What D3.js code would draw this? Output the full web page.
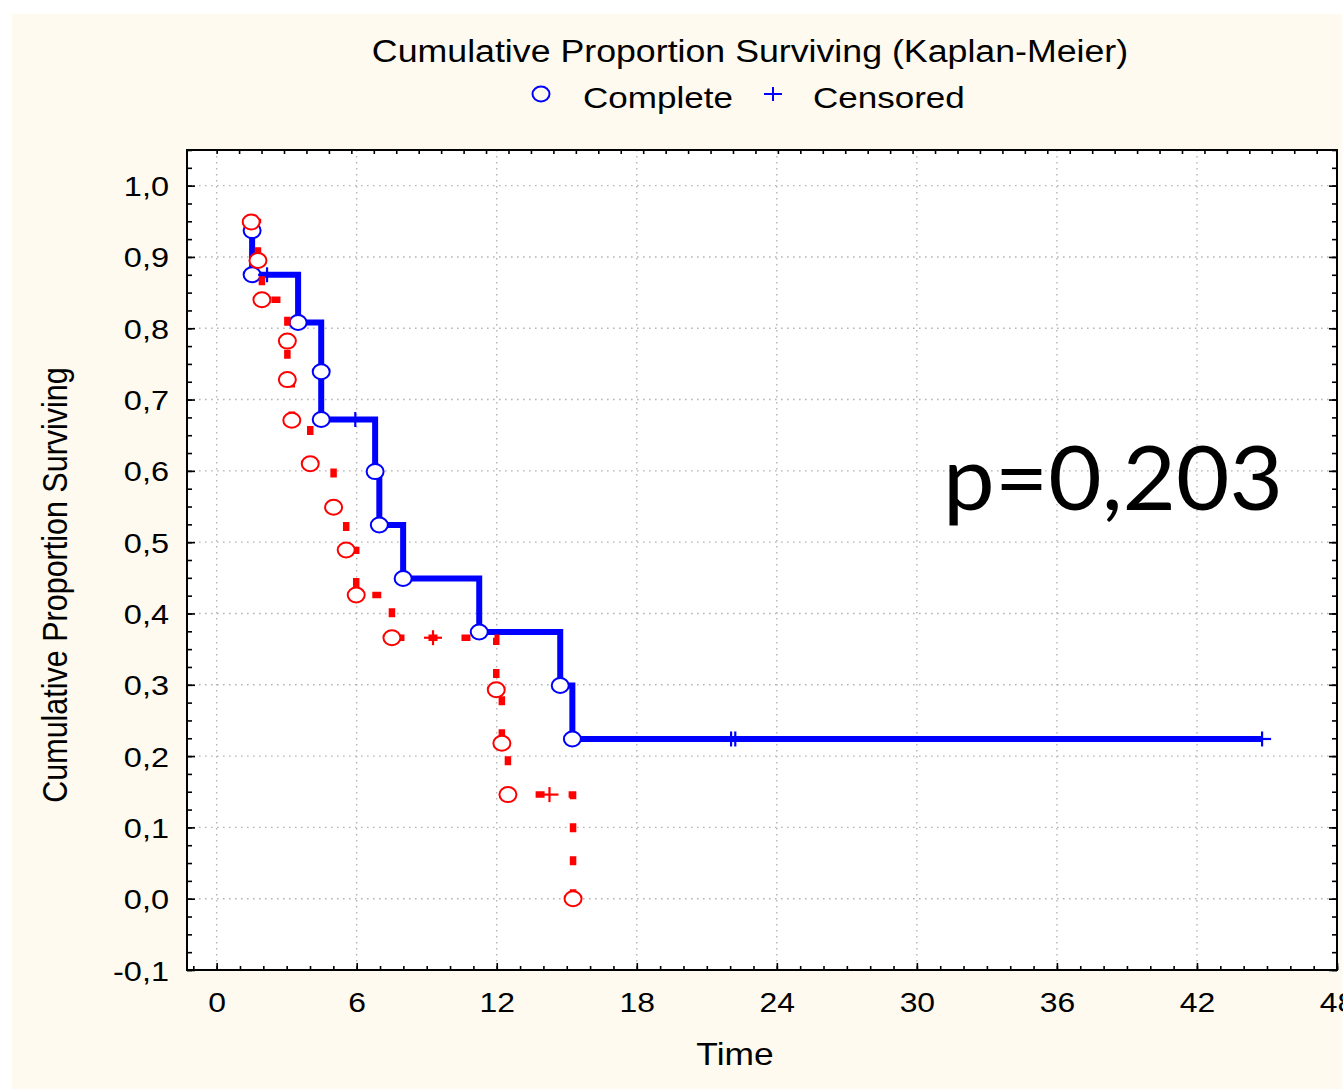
<!DOCTYPE html>
<html><head><meta charset="utf-8">
<script src="https://cdn.jsdelivr.net/npm/d3@7"></script>
<style>body{margin:0;background:#fff} svg{display:block}</style>
</head><body>
<svg id="c" width="1343" height="1089"></svg>
<script>
// ---------- data ----------
const xTickValues = [0, 6, 12, 18, 24, 30, 36, 42, 48];
const yTickValues = [-0.1, 0, 0.1, 0.2, 0.3, 0.4, 0.5, 0.6, 0.7, 0.8, 0.9, 1.0];
// blue group: complete (event) times and survival after each event
const blueEventTimes = [1.52, 1.52, 3.49, 4.48, 4.48, 6.79, 6.97, 7.99, 11.25, 14.72, 15.24];
const blueEventSurv  = [0.937, 0.875, 0.808, 0.739, 0.672, 0.599, 0.524, 0.449, 0.374, 0.299, 0.224];
const blueCensTimes  = [2.16, 5.94, 22.04, 22.22, 44.79];
// red group
const redEventTimes = [1.48, 1.77, 1.94, 3.03, 3.03, 3.22, 4.01, 5.01, 5.55, 5.98, 7.51, 11.98, 12.22, 12.48, 15.27];
const redEventSurv  = [0.949, 0.895, 0.840, 0.782, 0.728, 0.671, 0.610, 0.549, 0.489, 0.426, 0.366, 0.293, 0.218, 0.146, 0.0];
const redCensTimes  = [9.27, 14.26];
const titleText = "Cumulative Proportion Surviving (Kaplan-Meier)";
const legendLabels = ["Complete", "Censored"];
const pText = "p=0,203";

// ---------- layout ----------
const W = 1343, H = 1089;
const SX = 1.16; // horizontal stretch of the original picture
const plot = {l: 187, r: 1337, t: 150, b: 970};
const svg = d3.select("#c");
const FONT = "'Liberation Sans', Arial, sans-serif";

svg.append("rect").attr("x", 12).attr("y", 14).attr("width", W - 12 - 1).attr("height", H - 14)
  .attr("fill", "#fefaef");
svg.append("rect").attr("x", plot.l).attr("y", plot.t).attr("width", plot.r - plot.l).attr("height", plot.b - plot.t)
  .attr("fill", "#fff");

const x = d3.scaleLinear().domain([-1.27, 48]).range([plot.l, plot.r]);
const y = d3.scaleLinear().domain([-0.1, 1.05]).range([plot.b, plot.t]);
// top border carries its own finer tick spacing
const xTop = d3.scaleLinear().domain([0, 49]).range([x(0), x(0) + 49 * 22.45]);

const fmt = d => d.toFixed(1).replace(".", ",");

// grid
const grid = svg.append("g").attr("stroke", "#b4b4b4").attr("stroke-width", 1.4).attr("stroke-dasharray", "1.6,4.4");
grid.selectAll("line.v").data(xTickValues.filter(v => v < 48)).join("line")
  .attr("x1", d => x(d)).attr("x2", d => x(d)).attr("y1", plot.t).attr("y2", plot.b);
grid.selectAll("line.h").data(yTickValues.filter(v => v > -0.1)).join("line")
  .attr("y1", d => y(d)).attr("y2", d => y(d)).attr("x1", plot.l).attr("x2", plot.r);

// minor/major inward ticks
const yMinor = d3.range(-0.1, 1.0501, 0.025).map(v => +v.toFixed(3));
const xMinor = d3.range(-1, 49, 1);
function tickStyle(g) { g.select(".domain").remove(); g.selectAll("line").attr("stroke", "#000").attr("stroke-width", 1.6); }
svg.append("g").attr("transform", `translate(${plot.l},0)`)
  .call(d3.axisRight(y).tickValues(yMinor).tickSize(5).tickFormat("")).call(tickStyle);
svg.append("g").attr("transform", `translate(${plot.l},0)`)
  .call(d3.axisRight(y).tickValues(yTickValues).tickSize(8).tickFormat("")).call(tickStyle);
svg.append("g").attr("transform", `translate(${plot.r},0)`)
  .call(d3.axisLeft(y).tickValues(yMinor).tickSize(5).tickFormat("")).call(tickStyle);
svg.append("g").attr("transform", `translate(${plot.r},0)`)
  .call(d3.axisLeft(y).tickValues(yTickValues).tickSize(8).tickFormat("")).call(tickStyle);
svg.append("g").attr("transform", `translate(0,${plot.b})`)
  .call(d3.axisTop(x).tickValues(xMinor).tickSize(4).tickFormat("")).call(tickStyle);
svg.append("g").attr("transform", `translate(0,${plot.b})`)
  .call(d3.axisTop(x).tickValues(xTickValues).tickSize(7).tickFormat("")).call(tickStyle);
svg.append("g").attr("transform", `translate(0,${plot.t})`)
  .call(d3.axisBottom(xTop).tickValues(d3.range(0, 50, 1)).tickSize(4).tickFormat("")).call(tickStyle);

// tick labels
const yl = svg.append("g").attr("transform", `translate(${plot.l},0)`)
  .call(d3.axisLeft(y).tickValues(yTickValues).tickSize(0).tickPadding(0).tickFormat(fmt));
yl.select(".domain").remove();
yl.selectAll("text").attr("font-family", FONT).attr("font-size", 28).attr("fill", "#000")
  .attr("x", null).attr("dy", null)
  .attr("transform", `translate(-18,10) scale(${SX},1)`);
const xl = svg.append("g").attr("transform", `translate(0,${plot.b})`)
  .call(d3.axisBottom(x).tickValues(xTickValues).tickSize(0).tickPadding(0).tickFormat(d3.format("d")));
xl.select(".domain").remove();
xl.selectAll("text").attr("font-family", FONT).attr("font-size", 27.5).attr("fill", "#000")
  .attr("y", null).attr("dy", null)
  .attr("transform", `translate(0,42) scale(${SX},1)`);

// border
svg.append("rect").attr("x", plot.l).attr("y", plot.t).attr("width", plot.r - plot.l).attr("height", plot.b - plot.t)
  .attr("fill", "none").attr("stroke", "#000").attr("stroke-width", 2);

// ---------- curves ----------
function series(evT, evS, cT) {
  const ev = evT.map((t, i) => ({t, s: evS[i], c: false}));
  const cens = cT.map(t => {
    let s = 1;
    ev.forEach(e => { if (e.t <= t) s = e.s; });
    return {t, s, c: true};
  });
  const all = ev.concat(cens).sort((a, b) => a.t - b.t || (a.c - b.c));
  return {ev, cens, all};
}
const blue = series(blueEventTimes, blueEventSurv, blueCensTimes);
const red = series(redEventTimes, redEventSurv, redCensTimes);
const line = d3.line().x(d => x(d.t)).y(d => y(d.s)).curve(d3.curveStepAfter);

function drawSeries(S, color, dash, width) {
  const g = svg.append("g");
  g.append("path").attr("d", line(S.all)).attr("fill", "none").attr("stroke", color)
    .attr("stroke-width", width).attr("stroke-dasharray", dash).attr("stroke-dashoffset", dash ? 1 : null)
    .attr("stroke-linejoin", "miter");
  g.selectAll("ellipse").data(S.ev).join("ellipse")
    .attr("cx", d => x(d.t)).attr("cy", d => y(d.s)).attr("rx", 8.5).attr("ry", 7.5)
    .attr("fill", "#fff").attr("stroke", color).attr("stroke-width", 2);
  const p = g.selectAll("g.c").data(S.cens).join("g").attr("transform", d => `translate(${x(d.t)},${y(d.s)})`);
  p.append("line").attr("x1", -9).attr("x2", 9).attr("stroke", color).attr("stroke-width", 2.2);
  p.append("line").attr("y1", -7.5).attr("y2", 7.5).attr("stroke", color).attr("stroke-width", 2.2);
}
drawSeries(blue, "#0000ff", null, 6);
drawSeries(red, "#ff0000", "9,24", 6.5);

// ---------- texts ----------
function stretchedText(tx, ty, str, size, anchor) {
  return svg.append("text").attr("transform", `translate(${tx},${ty}) scale(${SX},1)`)
    .attr("font-family", FONT).attr("font-size", size).attr("text-anchor", anchor).attr("fill", "#000").text(str);
}
stretchedText(750, 62, titleText, 30.8, "middle");
stretchedText(583, 108, legendLabels[0], 30.2, "start");
stretchedText(813, 108, legendLabels[1], 30.2, "start");
svg.append("ellipse").attr("cx", 541).attr("cy", 94).attr("rx", 8.5).attr("ry", 7.5)
  .attr("fill", "none").attr("stroke", "#0000ff").attr("stroke-width", 2);
const lp = svg.append("g").attr("transform", "translate(773,94)");
lp.append("line").attr("x1", -9).attr("x2", 9).attr("stroke", "#0000ff").attr("stroke-width", 2);
lp.append("line").attr("y1", -7).attr("y2", 7).attr("stroke", "#0000ff").attr("stroke-width", 2);

stretchedText(735, 1065, "Time", 30.5, "middle");
svg.append("text").attr("transform", `translate(66.5,585) scale(${SX},1) rotate(-90)`)
  .attr("font-family", FONT).attr("font-size", 30.5).attr("text-anchor", "middle").attr("fill", "#000")
  .text("Cumulative Proportion Surviving");

svg.append("text").attr("x", 943).attr("y", 510).attr("font-family", "Lato")
  .attr("font-size", 90).attr("fill", "#000").attr("textLength", 340).attr("lengthAdjust", "spacingAndGlyphs")
  .text(pText);
</script>
</body></html>
